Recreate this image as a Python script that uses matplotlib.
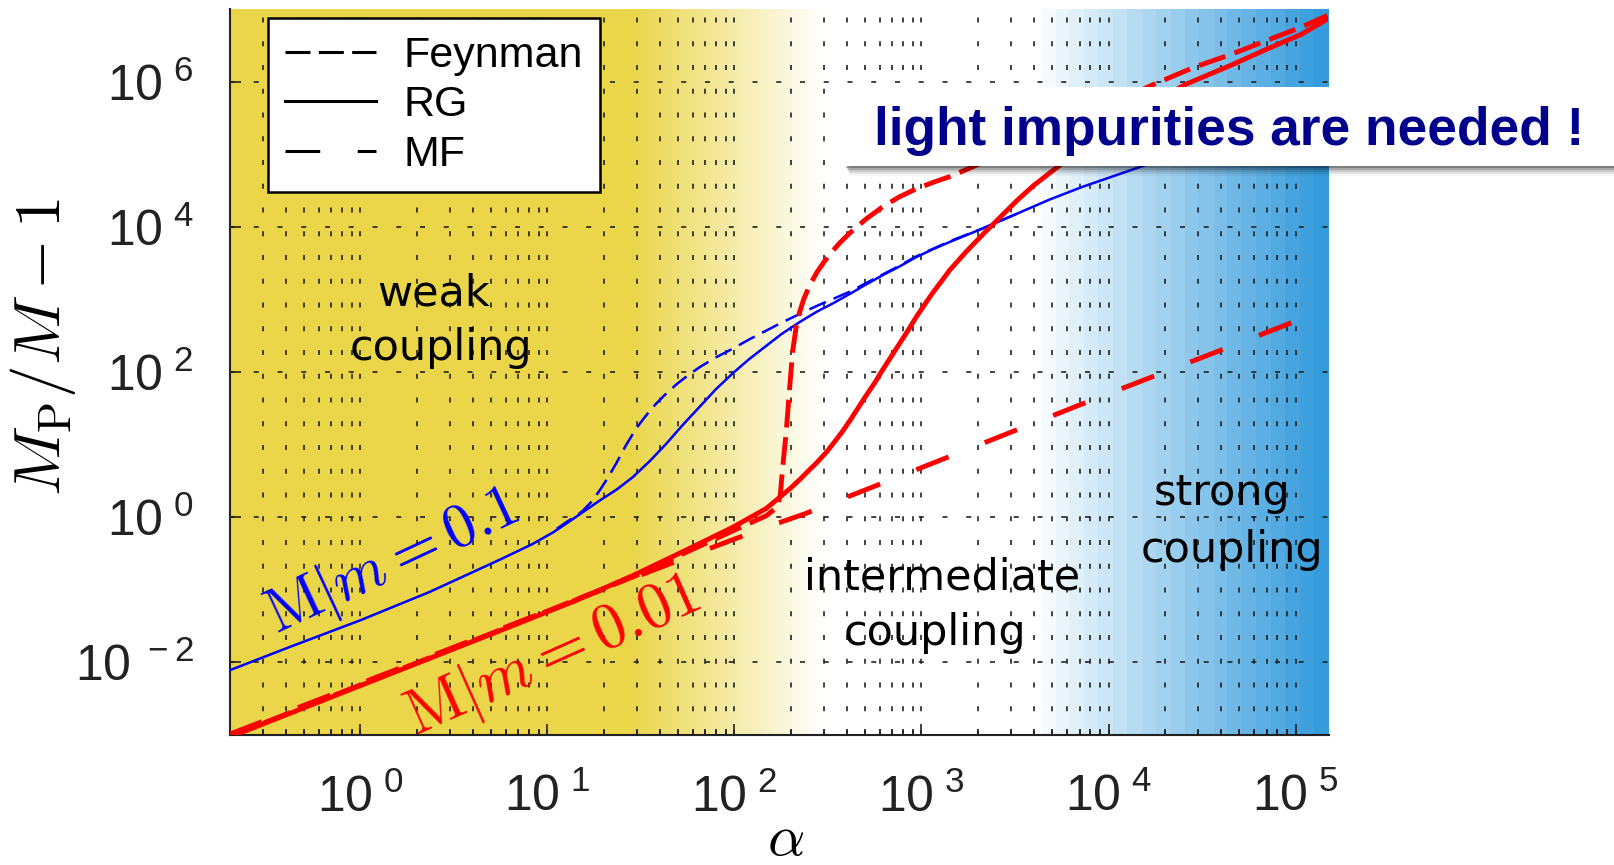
"""Polaron effective mass vs coupling strength (log-log), MATLAB-style figure."""

import matplotlib.pyplot as plt
import matplotlib.ticker as mticker
import numpy as np
from matplotlib.lines import Line2D
from matplotlib.patches import Rectangle

plt.rcParams["font.family"] = ["Liberation Sans", "DejaVu Sans"]
plt.rcParams["mathtext.fontset"] = "cm"
plt.rcParams["lines.scale_dashes"] = False

W, H = 1615, 865

# Curves as log10(alpha), log10(M_P/M - 1)
blue_rg_x = [-0.70, -0.38, 0.00, 0.37, 0.75, 0.92, 1.03, 1.10, 1.19, 1.28, 1.37,
             1.456, 1.55, 1.635, 1.72, 1.81, 1.90, 1.99, 2.08, 2.16, 2.25, 2.35,
             2.44, 2.53, 2.62, 2.70, 2.79, 2.88, 2.97, 3.06, 3.15, 3.33, 3.51,
             3.68, 3.86, 4.04, 4.50, 5.17]
blue_rg_y = [-2.11, -1.79, -1.42, -1.03, -0.58, -0.37, -0.21, -0.09, 0.07, 0.23, 0.38,
             0.55, 0.78, 1.01, 1.26, 1.51, 1.76, 1.98, 2.18, 2.34, 2.52, 2.69,
             2.83, 2.95, 3.08, 3.20, 3.33, 3.45, 3.58, 3.69, 3.79, 3.98, 4.18,
             4.37, 4.55, 4.71, 5.12, 5.70]

blue_fey_x = [1.05, 1.10, 1.15, 1.19, 1.235, 1.28, 1.325, 1.37, 1.42, 1.46, 1.50,
              1.54, 1.58, 1.63, 1.69, 1.75, 1.81, 1.90, 1.99, 2.08, 2.17, 2.26,
              2.35, 2.44, 2.53, 2.62, 2.70, 2.79, 2.88, 2.97, 3.15, 3.33, 3.51]
blue_fey_y = [-0.16, -0.07, 0.01, 0.09, 0.21, 0.37, 0.55, 0.75, 0.99, 1.16, 1.31,
              1.44, 1.56, 1.69, 1.83, 1.95, 2.06, 2.20, 2.32, 2.45, 2.57, 2.69,
              2.80, 2.91, 3.01, 3.11, 3.22, 3.34, 3.46, 3.59, 3.80, 3.98, 4.18]

red_rg_x = [-0.70, 0.00, 0.75, 1.15, 1.46, 1.72, 1.99, 2.17, 2.24, 2.30, 2.35,
            2.40, 2.44, 2.49, 2.53, 2.58, 2.62, 2.66, 2.70, 2.75, 2.79, 2.84,
            2.88, 2.93, 2.97, 3.02, 3.06, 3.11, 3.15, 3.24, 3.33, 3.42, 3.51,
            3.60, 3.74, 3.90, 4.10, 4.25, 4.42, 4.65, 4.84, 5.03, 5.17]
red_rg_y = [-3.03, -2.32, -1.56, -1.15, -0.80, -0.48, -0.14, 0.12, 0.27, 0.40, 0.52,
            0.65, 0.75, 0.89, 1.02, 1.19, 1.34, 1.50, 1.66, 1.85, 2.02, 2.22,
            2.38, 2.58, 2.75, 2.94, 3.09, 3.26, 3.40, 3.66, 3.90, 4.13, 4.36,
            4.57, 4.85, 5.13, 5.47, 5.74, 5.97, 6.22, 6.44, 6.65, 6.86]

red_fey_x = [-0.70, 0.75, 1.46, 1.72, 1.99, 2.17, 2.23, 2.245, 2.258, 2.276, 2.294,
             2.312, 2.33, 2.348, 2.37, 2.40, 2.44, 2.48, 2.52, 2.56, 2.615, 2.70,
             2.79, 2.88, 2.97, 3.06, 3.15, 3.26, 3.75, 4.24, 4.46, 4.65, 4.84,
             5.03, 5.17]
red_fey_y = [-3.02, -1.55, -0.82, -0.51, -0.19, 0.02, 0.14, 0.30, 0.69, 1.15, 1.75,
             2.30, 2.62, 2.82, 3.00, 3.18, 3.37, 3.52, 3.65, 3.77, 3.91, 4.10,
             4.27, 4.41, 4.52, 4.61, 4.69, 4.81, 5.38, 5.96, 6.20, 6.37, 6.56,
             6.75, 6.91]

red_mf_x = [-0.70, 1.00, 1.97, 2.19, 2.38, 3.84, 5.17]
red_mf_y = [-2.99, -1.29, -0.33, -0.12, 0.05, 1.54, 2.87]

x_ticks = [1e0, 1e1, 1e2, 1e3, 1e4, 1e5]
y_ticks = [1e-2, 1e0, 1e2, 1e4, 1e6]
XLIM = (0.2, 1.5e5)
YLIM = (1e-3, 1e7)


def fx(px):
    return px / W


def fy(py):
    return 1 - py / H


fig = plt.figure(figsize=(W / 100, H / 100), dpi=100)
rect = [fx(229.6), fy(735), (1328.5 - 229.6) / W, (735 - 9) / H]

# Background: yellow (weak) -> white (intermediate) -> banded blue (strong)
bg = fig.add_axes(rect, zorder=-1)
gx = np.linspace(np.log10(XLIM[0]), np.log10(XLIM[1]), 800)
yellow = np.array([234, 214, 72]) / 255
blue = np.array([52, 155, 220]) / 255
t_y = np.clip((gx - 1.44) / (2.47 - 1.44), 0, 1)[:, None]
t_b = np.ceil(np.clip((gx - 3.64) / (5.176 - 3.64), 0, 1) * 20)[:, None] / 20
rgb = yellow * (1 - t_y) + t_y
rgb = rgb * (1 - t_b) + blue * t_b
bg.imshow(rgb[None, :, :], extent=[0, 1, 0, 1], aspect="auto", interpolation="nearest")
bg.set_axis_off()

ax = fig.add_axes(rect)
ax.set_facecolor("none")
ax.set_xscale("log")
ax.set_yscale("log")

grid_ls = (0, (3.6, 13.5))
ax.grid(True, which="both", axis="x", color="#222222", lw=1.2, ls=grid_ls)
ax.grid(True, which="major", axis="y", color="#222222", lw=1.2, ls=grid_ls)

ax.plot(10 ** np.array(blue_rg_x), 10 ** np.array(blue_rg_y), color="#0000FF", lw=1.8, zorder=4)
ax.plot(10 ** np.array(blue_fey_x), 10 ** np.array(blue_fey_y), color="#0000FF", lw=1.8,
        ls=(0, (13, 6)), zorder=4)
ax.plot(10 ** np.array(red_rg_x), 10 ** np.array(red_rg_y), color="#FF0000", lw=3.5, zorder=5)
ax.plot(10 ** np.array(red_fey_x), 10 ** np.array(red_fey_y), color="#FF0000", lw=3.5,
        ls=(0, (20, 7)), zorder=5)
ax.plot(10 ** np.array(red_mf_x), 10 ** np.array(red_mf_y), color="#FF0000", lw=3.5,
        ls=(0, (25, 28)), zorder=5)

ax.set_xlim(XLIM)
ax.set_ylim(YLIM)
ax.xaxis.set_major_locator(mticker.FixedLocator(x_ticks))
ax.xaxis.set_minor_locator(mticker.LogLocator(base=10, subs=np.arange(2, 10), numticks=30))
ax.yaxis.set_major_locator(mticker.FixedLocator(y_ticks))
ax.yaxis.set_minor_locator(mticker.NullLocator())
fmt = mticker.FuncFormatter(lambda v, pos: r"$\mathregular{10^{\ %d}}$" % round(np.log10(v)))
ax.xaxis.set_major_formatter(fmt)
ax.yaxis.set_major_formatter(fmt)
ax.tick_params(which="both", direction="in", colors="#222222", labelcolor="#222222", width=1.2)
ax.tick_params(which="major", length=8, labelsize=36)
ax.tick_params(which="minor", length=4)
ax.tick_params(axis="x", which="major", pad=28)
ax.tick_params(axis="y", which="major", pad=26)
for side in ("top", "right"):
    ax.spines[side].set_visible(False)
for side in ("left", "bottom"):
    ax.spines[side].set_linewidth(1.5)
    ax.spines[side].set_color("#222222")

handles = [
    Line2D([], [], color="k", lw=2.2, ls=(0, (18, 6))),
    Line2D([], [], color="k", lw=2.2),
    Line2D([], [], color="k", lw=2.2, ls=(0, (25, 27))),
]
leg = ax.legend(handles, ["Feynman", "RG", "MF"], loc="upper left",
                bbox_to_anchor=(0.035, 0.987), borderaxespad=0, fontsize=31,
                handlelength=2.1, handletextpad=0.65, labelspacing=0.22,
                borderpad=0.4, fancybox=False, edgecolor="k", framealpha=1)
leg.get_frame().set_linewidth(1.8)
leg.set_zorder(8)

# Region labels
region_font = dict(family="DejaVu Sans", fontsize=31, ha="center", va="baseline", zorder=6)
fig.text(fx(434), fy(305), "weak", **region_font)
fig.text(fx(441), fy(360), "coupling", **region_font)
fig.text(fx(942), fy(590), "intermediate", **region_font)
fig.text(fx(935), fy(645), "coupling", **region_font)
fig.text(fx(1222), fy(505), "strong", **region_font)
fig.text(fx(1232), fy(562), "coupling", **region_font)

fig.text(fx(393), fy(563), r"$\mathrm{M}|m = 0.1$", color="#0000FF", fontsize=44,
         rotation=25, ha="center", va="center", rotation_mode="anchor")
fig.text(fx(553), fy(657), r"$\mathrm{M}|m = 0.01$", color="#FF0000", fontsize=46,
         rotation=24, ha="center", va="center", rotation_mode="anchor")

fig.text(fx(43), fy(347), r"$M_\mathrm{P}/M-1$", rotation=90, fontsize=47,
         ha="center", va="center")
fig.text(fx(786), fy(840), r"$\alpha$", fontsize=42, ha="center", va="center")

# Call-out box with soft drop shadow
for k, a in enumerate([0.24, 0.17, 0.11, 0.07, 0.04]):
    fig.add_artist(Rectangle((fx(846 + k), fy(168 + 2 * k)), (W - 846) / W + 0.02,
                             (168 + 2 * k - 95) / H, transform=fig.transFigure,
                             facecolor="black", edgecolor="none", alpha=a, zorder=9))
fig.add_artist(Rectangle((fx(843), fy(166)), (W - 843) / W + 0.02, (166 - 87) / H,
                         transform=fig.transFigure, facecolor="white",
                         edgecolor="none", zorder=10))
fig.text(fx(874), fy(145), "light impurities are needed !", fontsize=38.3,
         fontweight="bold", color="#00008C", ha="left", va="baseline", zorder=11)

fig.savefig("out.png", dpi=100)
